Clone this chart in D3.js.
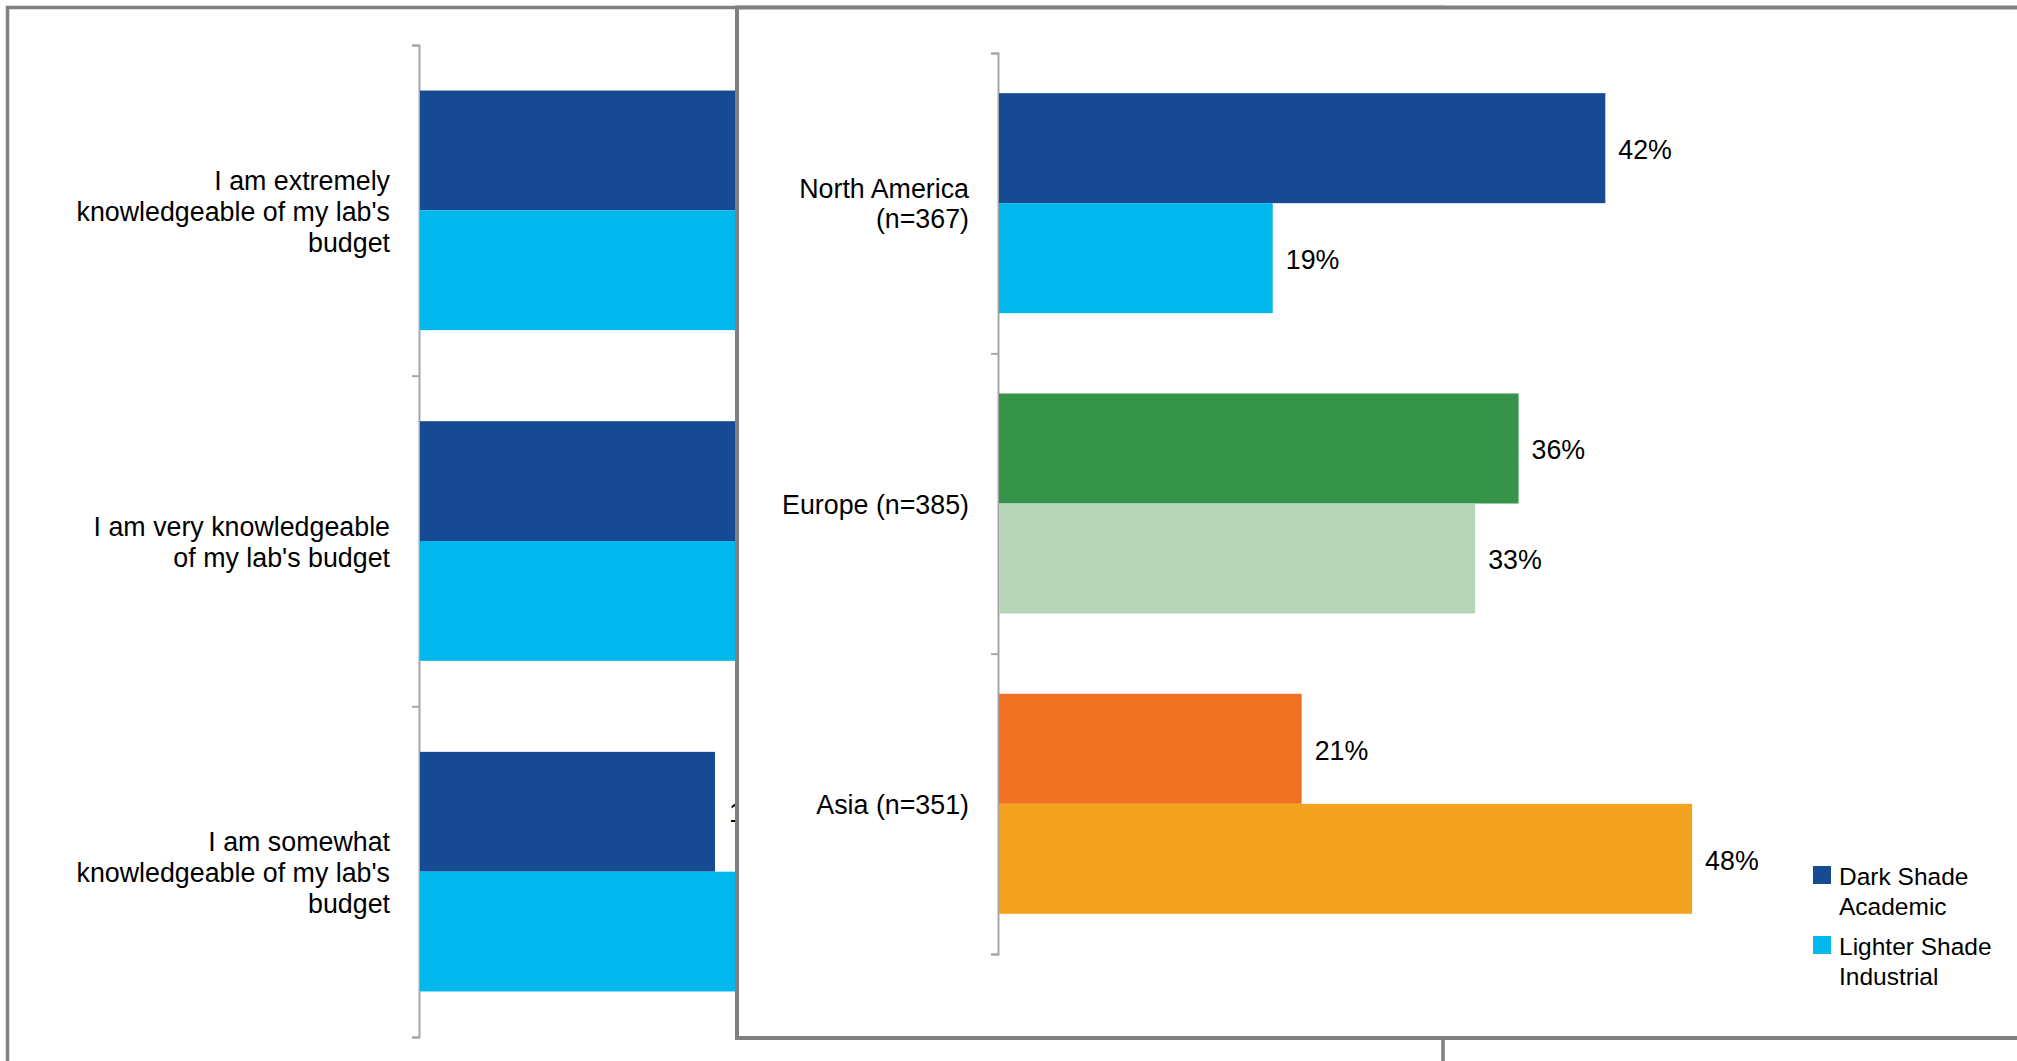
<!DOCTYPE html>
<html>
<head>
<meta charset="utf-8">
<script src="https://cdn.jsdelivr.net/npm/d3@7"></script>
<style>
  body { margin: 0; background: #fff; }
  svg { display: block; font-family: "Liberation Sans", Arial, sans-serif; }
  .axis path, .axis line { stroke: #a6a6a6; stroke-width: 2; }
</style>
</head>
<body>
<div id="chart"></div>
<script>
// back chart: knowledge of lab budget (mostly hidden behind the front panel)
const leftCategories = [
    ["I am extremely", "knowledgeable of my lab's", "budget"],
    ["I am very knowledgeable", "of my lab's budget"],
    ["I am somewhat", "knowledgeable of my lab's", "budget"]
];
const leftAcademic = [34, 45, 19];
const leftIndustrial = [30, 40, 28];

// front chart: by region
const regionLabels = [
    ["North America", "(n=367)"],
    ["Europe (n=385)"],
    ["Asia (n=351)"]
];
const regionAcademic = [42, 36, 21];
const regionIndustrial = [19, 33, 48];
const academicColors = ["#164b94", "#369448", "#f07222"];
const industrialColors = ["#00b8eb", "#b7d6b9", "#f4a320"];

const legendLabels = [["Dark Shade", "Academic"], ["Lighter Shade", "Industrial"]];
const legendColors = ["#164b94", "#00b8eb"];

const W = 2017, H = 1061;
const svg = d3.select("#chart").append("svg")
    .attr("width", W)
    .attr("height", H);

function drawBars(g, opts) {
    const n = opts.labels.length;
    const y0 = d3.scaleBand()
        .domain(d3.range(n))
        .range([opts.top, opts.bottom]);
    const y1 = d3.scaleBand()
        .domain([0, 1])
        .range([0, y0.bandwidth()])
        .paddingOuter(opts.outer);
    const x = d3.scaleLinear()
        .domain([0, 60])
        .range([opts.axisX, opts.axisX + 60 * opts.pxPerPct]);

    // ticks on the category boundaries
    const yb = d3.scaleLinear().domain([0, n]).range([opts.top, opts.bottom]);
    g.append("g")
        .attr("class", "axis")
        .attr("transform", `translate(${opts.axisX},0)`)
        .call(d3.axisLeft(yb).tickValues(d3.range(n + 1)).tickSize(7).tickSizeOuter(7).tickFormat(""));

    const rows = [];
    d3.range(n).forEach(i => {
        rows.push({ i: i, s: 0, v: opts.academic[i], c: opts.colA[i] });
        rows.push({ i: i, s: 1, v: opts.industrial[i], c: opts.colI[i] });
    });

    g.selectAll(".bar")
        .data(rows)
        .enter().append("rect")
        .attr("class", "bar")
        .attr("x", x(0) + 1)
        .attr("y", d => y0(d.i) + y1(d.s))
        .attr("width", d => x(d.v) - x(0) - 1)
        .attr("height", y1.bandwidth())
        .attr("fill", d => d.c);

    g.selectAll(".val")
        .data(rows)
        .enter().append("text")
        .attr("class", "val")
        .attr("x", d => x(d.v) + opts.labelGap)
        .attr("y", d => y0(d.i) + y1(d.s) + y1.bandwidth() / 2)
        .attr("dy", "0.4em")
        .attr("font-size", 26.8)
        .text(d => d.v + "%");

    const lh = opts.lineH;
    const lab = g.selectAll(".cat")
        .data(opts.labels)
        .enter().append("text")
        .attr("class", "cat")
        .attr("text-anchor", "end")
        .attr("font-size", 26.8);
    lab.each(function(lines, i) {
        const cy = y0(i) + y0.bandwidth() / 2;
        d3.select(this).selectAll("tspan")
            .data(lines)
            .enter().append("tspan")
            .attr("x", opts.axisX - 29)
            .attr("y", (d, k) => cy + (k - (lines.length - 1) / 2) * lh)
            .attr("dy", "0.38em")
            .text(d => d);
    });
}

// back panel
svg.append("rect")
    .attr("x", 7.5).attr("y", 7.5)
    .attr("width", 1443 - 7.5).attr("height", 1200)
    .attr("fill", "#fff")
    .attr("stroke", "#808080")
    .attr("stroke-width", 3.5);

drawBars(svg.append("g"), {
    labels: leftCategories, academic: leftAcademic, industrial: leftIndustrial,
    colA: leftAcademic.map(() => "#164b94"), colI: leftIndustrial.map(() => "#00b8eb"),
    top: 45, bottom: 1037, axisX: 419, pxPerPct: 15.58, outer: 0.38, lineH: 31, labelGap: 14
});

// front panel
svg.append("rect")
    .attr("x", 737).attr("y", 7.5)
    .attr("width", 1400).attr("height", 1038 - 7.5)
    .attr("fill", "#fff")
    .attr("stroke", "#808080")
    .attr("stroke-width", 4);

drawBars(svg.append("g"), {
    labels: regionLabels, academic: regionAcademic, industrial: regionIndustrial,
    colA: academicColors, colI: industrialColors,
    top: 53, bottom: 954, axisX: 998, pxPerPct: 14.46, outer: 0.365, lineH: 30, labelGap: 13
});

// legend
const leg = svg.append("g").attr("transform", "translate(1813,866)");
const item = leg.selectAll(".item")
    .data(legendLabels)
    .enter().append("g")
    .attr("class", "item")
    .attr("transform", (d, i) => `translate(0,${i * 70})`);
item.append("rect")
    .attr("width", 18).attr("height", 18)
    .attr("fill", (d, i) => legendColors[i]);
item.append("text")
    .attr("font-size", 24.5)
    .selectAll("tspan")
    .data(d => d)
    .enter().append("tspan")
    .attr("x", 26)
    .attr("y", (d, k) => 19 + k * 30)
    .text(d => d);
</script>
</body>
</html>
